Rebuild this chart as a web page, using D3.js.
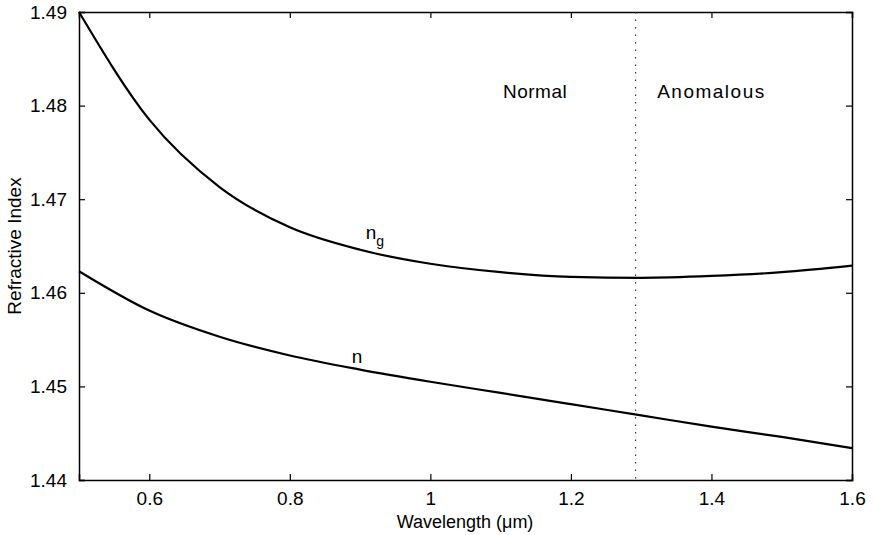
<!DOCTYPE html>
<html>
<head>
<meta charset="utf-8">
<script src="https://cdn.jsdelivr.net/npm/d3@7"></script>
<style>
  body { margin: 0; background: white; }
  text { font-family: "Liberation Sans", Arial, sans-serif; fill: black; }
</style>
</head>
<body>
<div id="chart"></div>
<script>
// wavelength (um)
const wavelengths = [0.5, 0.6, 0.7, 0.8, 0.9, 1.0, 1.1, 1.2, 1.3, 1.4, 1.5, 1.6]
const ngValues = [1.4900, 1.4785, 1.4713, 1.4670, 1.4646, 1.4631, 1.4622, 1.4617, 1.4616, 1.4618, 1.4622, 1.4629]
const nValues = [1.4623, 1.4581, 1.4553, 1.4533, 1.4518, 1.4505, 1.4493, 1.4481, 1.4469, 1.4457, 1.4446, 1.4434]
const zeroDispersion = 1.292
const xTicks = [0.6, 0.8, 1, 1.2, 1.4, 1.6]
const yTicks = [1.44, 1.45, 1.46, 1.47, 1.48, 1.49]

const Width = 873, Height = 535
const margin = { top: 12, right: 21, bottom: 55, left: 79 }
const width = Width - margin.left - margin.right
const height = Height - margin.top - margin.bottom

const svg = d3.select("#chart").append("svg")
  .attr("width", Width)
  .attr("height", Height)

const g = svg.append("g").attr("transform", `translate(${margin.left},${margin.top})`)

const xScale = d3.scaleLinear().domain([0.5, 1.6]).range([0, width])
const yScale = d3.scaleLinear().domain([1.44, 1.49]).range([height, 0])

// 坐标轴
const fmt = d => String(d)
g.append("g").attr("transform", `translate(0,${height})`)
  .call(d3.axisBottom(xScale).tickValues(xTicks).tickSize(-6).tickPadding(12).tickFormat(fmt))
g.append("g").call(d3.axisTop(xScale).tickValues(xTicks).tickSize(-6).tickFormat(""))
g.append("g")
  .call(d3.axisLeft(yScale).tickValues(yTicks).tickSize(-6).tickPadding(12).tickFormat(d3.format(".2f")))
g.append("g").attr("transform", `translate(${width},0)`)
  .call(d3.axisRight(yScale).tickValues(yTicks).tickSize(-6).tickFormat(""))

g.selectAll(".domain").attr("stroke", "black").attr("stroke-width", 1.5)
g.selectAll(".tick line").attr("stroke", "black").attr("stroke-width", 1.2)
g.selectAll(".tick text").style("font-size", "19px").attr("fill", "black")

// 零色散波长
g.append("line")
  .attr("x1", xScale(zeroDispersion)).attr("x2", xScale(zeroDispersion))
  .attr("y1", 0).attr("y2", height)
  .attr("stroke", "#333").attr("stroke-width", 1.2)
  .attr("stroke-dasharray", "1.5,6")

const line = d3.line().x(d => xScale(d[0])).y(d => yScale(d[1])).curve(d3.curveMonotoneX)

g.append("path")
  .datum(d3.zip(wavelengths, ngValues))
  .attr("d", line)
  .attr("fill", "none").attr("stroke", "black").attr("stroke-width", 2.2)

g.append("path")
  .datum(d3.zip(wavelengths, nValues))
  .attr("d", line)
  .attr("fill", "none").attr("stroke", "black").attr("stroke-width", 2.2)

// 标注
const ng = g.append("text").attr("x", xScale(0.908)).attr("y", yScale(1.4657)).style("font-size", "19px")
ng.append("tspan").text("n")
ng.append("tspan").attr("dy", 7).style("font-size", "14px").text("g")

g.append("text").attr("x", xScale(0.888)).attr("y", yScale(1.4525)).style("font-size", "19px").text("n")

g.append("text").attr("x", xScale(1.149)).attr("y", yScale(1.4808))
  .attr("text-anchor", "middle").style("font-size", "19px").style("letter-spacing", "0.5px").text("Normal")
g.append("text").attr("x", xScale(1.4)).attr("y", yScale(1.4808))
  .attr("text-anchor", "middle").style("font-size", "19px").style("letter-spacing", "1.5px").text("Anomalous")

svg.append("text")
  .attr("x", 465).attr("y", 528)
  .attr("text-anchor", "middle").style("font-size", "18px")
  .text("Wavelength (\u03bcm)")

svg.append("text")
  .attr("transform", "rotate(-90)")
  .attr("x", -(margin.top + height / 2)).attr("y", 21)
  .attr("text-anchor", "middle").style("font-size", "19px")
  .text("Refractive Index")
</script>
</body>
</html>
